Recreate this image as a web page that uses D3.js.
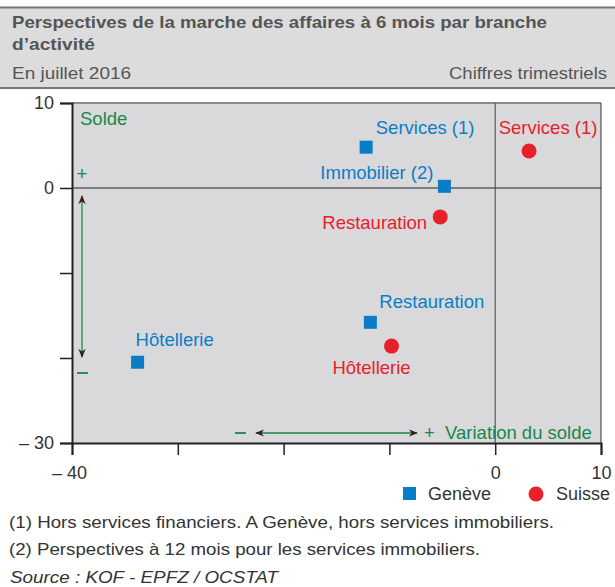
<!DOCTYPE html>
<html>
<head>
<meta charset="utf-8">
<script src="https://cdn.jsdelivr.net/npm/d3@7"></script>
<style>
body { margin: 0; background: #fff; }
svg text { font-family: "Liberation Sans", Arial, sans-serif; }
</style>
</head>
<body>
<div id="chart"></div>
<script>
// values
const branches = ["Services (1)", "Immobilier (2)", "Restauration", "Hôtellerie"]
const geneveX = [-12.2, -4.8, -11.8, -33.8]
const geneveY = [4.8, 0.2, -15.8, -20.5]
const suisseBranches = ["Services (1)", "Restauration", "Hôtellerie"]
const suisseX = [3.2, -5.2, -9.8]
const suisseY = [4.35, -3.4, -18.6]
const xTicks = [-40, -30, -20, -10, 0, 10]
const yTicks = [-30, -20, -10, 0, 10]
const xLabelled = [-40, 0, 10]
const yLabelled = [-30, 0, 10]

const width = 615, height = 587
const margin = {top: 103, right: 14, bottom: 144, left: 72}
const blue = "#0a7dc8", red = "#e8202a", green = "#17884a"
const labelSize = 18.5

const svg = d3.select("#chart").append("svg")
  .attr("width", width).attr("height", height)

// text helper, stretched to the width seen in the reference
function txt(xp, yp, s, size, len) {
  const t = svg.append("text").attr("x", xp).attr("y", yp).attr("font-size", size).attr("fill", "#333").text(s)
  if (len) t.attr("textLength", len).attr("lengthAdjust", "spacingAndGlyphs")
  return t
}

// header band
svg.append("rect").attr("x", 0).attr("y", 7).attr("width", width).attr("height", 81).attr("fill", "#dcdcdd")
svg.append("line").attr("x1", 0).attr("x2", width).attr("y1", 7.5).attr("y2", 7.5).attr("stroke", "#777").attr("stroke-width", 2)
svg.append("line").attr("x1", 0).attr("x2", width).attr("y1", 88).attr("y2", 88).attr("stroke", "#777").attr("stroke-width", 2)
txt(12, 28, "Perspectives de la marche des affaires à 6 mois par branche", 17, 535)
  .attr("font-weight", "bold").attr("fill", "#555")
txt(12, 50, "d’activité", 17, 83).attr("font-weight", "bold").attr("fill", "#555")
txt(12, 79, "En juillet 2016", 17, 119).attr("fill", "#555")
txt(449, 79, "Chiffres trimestriels", 17, 158).attr("fill", "#555")

const x = d3.scaleLinear().domain([-40, 10]).range([margin.left, width - margin.right])
const y = d3.scaleLinear().domain([-30, 10]).range([height - margin.bottom, margin.top])

// plot background
svg.append("rect").attr("x", x(-40)).attr("y", y(10)).attr("width", x(10) - x(-40)).attr("height", y(-30) - y(10))
  .attr("fill", "#d9d9db")
svg.append("line").attr("x1", x(-40)).attr("x2", x(10)).attr("y1", y(10)).attr("y2", y(10)).attr("stroke", "#8a8a8a").attr("stroke-width", 2)
svg.append("line").attr("x1", x(10)).attr("x2", x(10)).attr("y1", y(10)).attr("y2", y(-30)).attr("stroke", "#333").attr("stroke-width", 1)

// zero lines
svg.append("line").attr("x1", x(-40)).attr("x2", x(10)).attr("y1", y(0)).attr("y2", y(0)).attr("stroke", "#222").attr("stroke-width", 1)
svg.append("line").attr("x1", x(0)).attr("x2", x(0)).attr("y1", y(10)).attr("y2", y(-30)).attr("stroke", "#444").attr("stroke-width", 1)

// axes
const yAxis = d3.axisLeft(y).tickValues(yTicks).tickSize(12).tickPadding(6)
  .tickFormat(d => yLabelled.includes(d) ? String(d).replace("-", "– ") : "")
const xAxis = d3.axisBottom(x).tickValues(xTicks).tickSize(12).tickPadding(6)
  .tickFormat(d => xLabelled.includes(d) ? String(d).replace("-", "– ") : "")

const gy = svg.append("g").attr("transform", `translate(${x(-40)},0)`).call(yAxis)
const gx = svg.append("g").attr("transform", `translate(0,${y(-30)})`).call(xAxis)
;[gx, gy].forEach(g => {
  g.select(".domain").attr("stroke", "#222").attr("stroke-width", 2)
  g.selectAll(".tick line").attr("stroke", "#222").attr("stroke-width", 1.5)
  g.selectAll("text").attr("font-size", 18).attr("fill", "#333").attr("font-family", "Liberation Sans, Arial, sans-serif")
})
gx.selectAll("text").attr("dy", "1.0em").attr("dx", d => d < 0 ? -3 : 0)
gy.selectAll(".tick line").attr("x2", -12)

// arrow markers
const defs = svg.append("defs")
defs.append("marker").attr("id", "arr").attr("viewBox", "0 0 10 10").attr("refX", 9).attr("refY", 5)
  .attr("markerWidth", 7).attr("markerHeight", 7).attr("orient", "auto-start-reverse")
  .append("path").attr("d", "M0,1 L10,5 L0,9 L3,5 Z").attr("fill", "#3a1a1a")

// vertical "Solde" guide
svg.append("text").attr("x", 80).attr("y", 125).attr("font-size", labelSize).attr("fill", green).text("Solde")
svg.append("text").attr("x", 82).attr("y", 180).attr("font-size", labelSize).attr("fill", green).attr("text-anchor", "middle").text("+")
svg.append("line").attr("x1", 82).attr("x2", 82).attr("y1", 196).attr("y2", 357)
  .attr("stroke", green).attr("stroke-width", 1.3)
  .attr("marker-start", "url(#arr)").attr("marker-end", "url(#arr)")
svg.append("line").attr("x1", 77).attr("x2", 88).attr("y1", 373).attr("y2", 373).attr("stroke", green).attr("stroke-width", 1.8)

// horizontal "Variation du solde" guide
svg.append("line").attr("x1", 235).attr("x2", 246).attr("y1", 433).attr("y2", 433).attr("stroke", green).attr("stroke-width", 1.8)
svg.append("line").attr("x1", 256).attr("x2", 417).attr("y1", 433).attr("y2", 433)
  .attr("stroke", green).attr("stroke-width", 1.3)
  .attr("marker-start", "url(#arr)").attr("marker-end", "url(#arr)")
svg.append("text").attr("x", 424).attr("y", 439).attr("font-size", labelSize).attr("fill", green)
  .attr("xml:space", "preserve").text("+  Variation du solde")

// label placement (offsets from the point, px)
const geneveLabelPos = {
  "Services (1)": {dx: 59, dy: -13, anchor: "middle"},
  "Immobilier (2)": {dx: -11, dy: -7, anchor: "end"},
  "Restauration": {dx: 9, dy: -14, anchor: "start"},
  "Hôtellerie": {dx: -2, dy: -16, anchor: "start"}
}
const suisseLabelPos = {
  "Services (1)": {dx: 19, dy: -17, anchor: "middle"},
  "Restauration": {dx: -13, dy: 12, anchor: "end"},
  "Hôtellerie": {dx: -20, dy: 28, anchor: "middle"}
}

const geneve = branches.map((b, i) => ({name: b, x: geneveX[i], y: geneveY[i]}))
const suisse = suisseBranches.map((b, i) => ({name: b, x: suisseX[i], y: suisseY[i]}))

svg.append("g").selectAll("rect").data(geneve).join("rect")
  .attr("x", d => x(d.x) - 6.5).attr("y", d => y(d.y) - 6.5)
  .attr("width", 13).attr("height", 13).attr("fill", blue)

svg.append("g").selectAll("circle").data(suisse).join("circle")
  .attr("cx", d => x(d.x)).attr("cy", d => y(d.y)).attr("r", 7.5).attr("fill", red)

svg.append("g").selectAll("text").data(geneve).join("text")
  .attr("x", d => x(d.x) + geneveLabelPos[d.name].dx)
  .attr("y", d => y(d.y) + geneveLabelPos[d.name].dy)
  .attr("text-anchor", d => geneveLabelPos[d.name].anchor)
  .attr("font-size", labelSize).attr("fill", blue).text(d => d.name)

svg.append("g").selectAll("text").data(suisse).join("text")
  .attr("x", d => x(d.x) + suisseLabelPos[d.name].dx)
  .attr("y", d => y(d.y) + suisseLabelPos[d.name].dy)
  .attr("text-anchor", d => suisseLabelPos[d.name].anchor)
  .attr("font-size", labelSize).attr("fill", red).text(d => d.name)

// legend
svg.append("rect").attr("x", 403).attr("y", 487).attr("width", 13).attr("height", 13).attr("fill", blue)
txt(428, 500, "Genève", 17.5, 63)
svg.append("circle").attr("cx", 536).attr("cy", 494).attr("r", 7.5).attr("fill", red)
txt(556, 500, "Suisse", 17.5, 54)

// notes
txt(9, 528, "(1) Hors services financiers. A Genève, hors services immobiliers.", 17, 545)
txt(9, 555, "(2) Perspectives à 12 mois pour les services immobiliers.", 17, 471)
txt(10, 583, "Source : KOF - EPFZ / OCSTAT", 17, 268).attr("font-style", "italic")
</script>
</body>
</html>
